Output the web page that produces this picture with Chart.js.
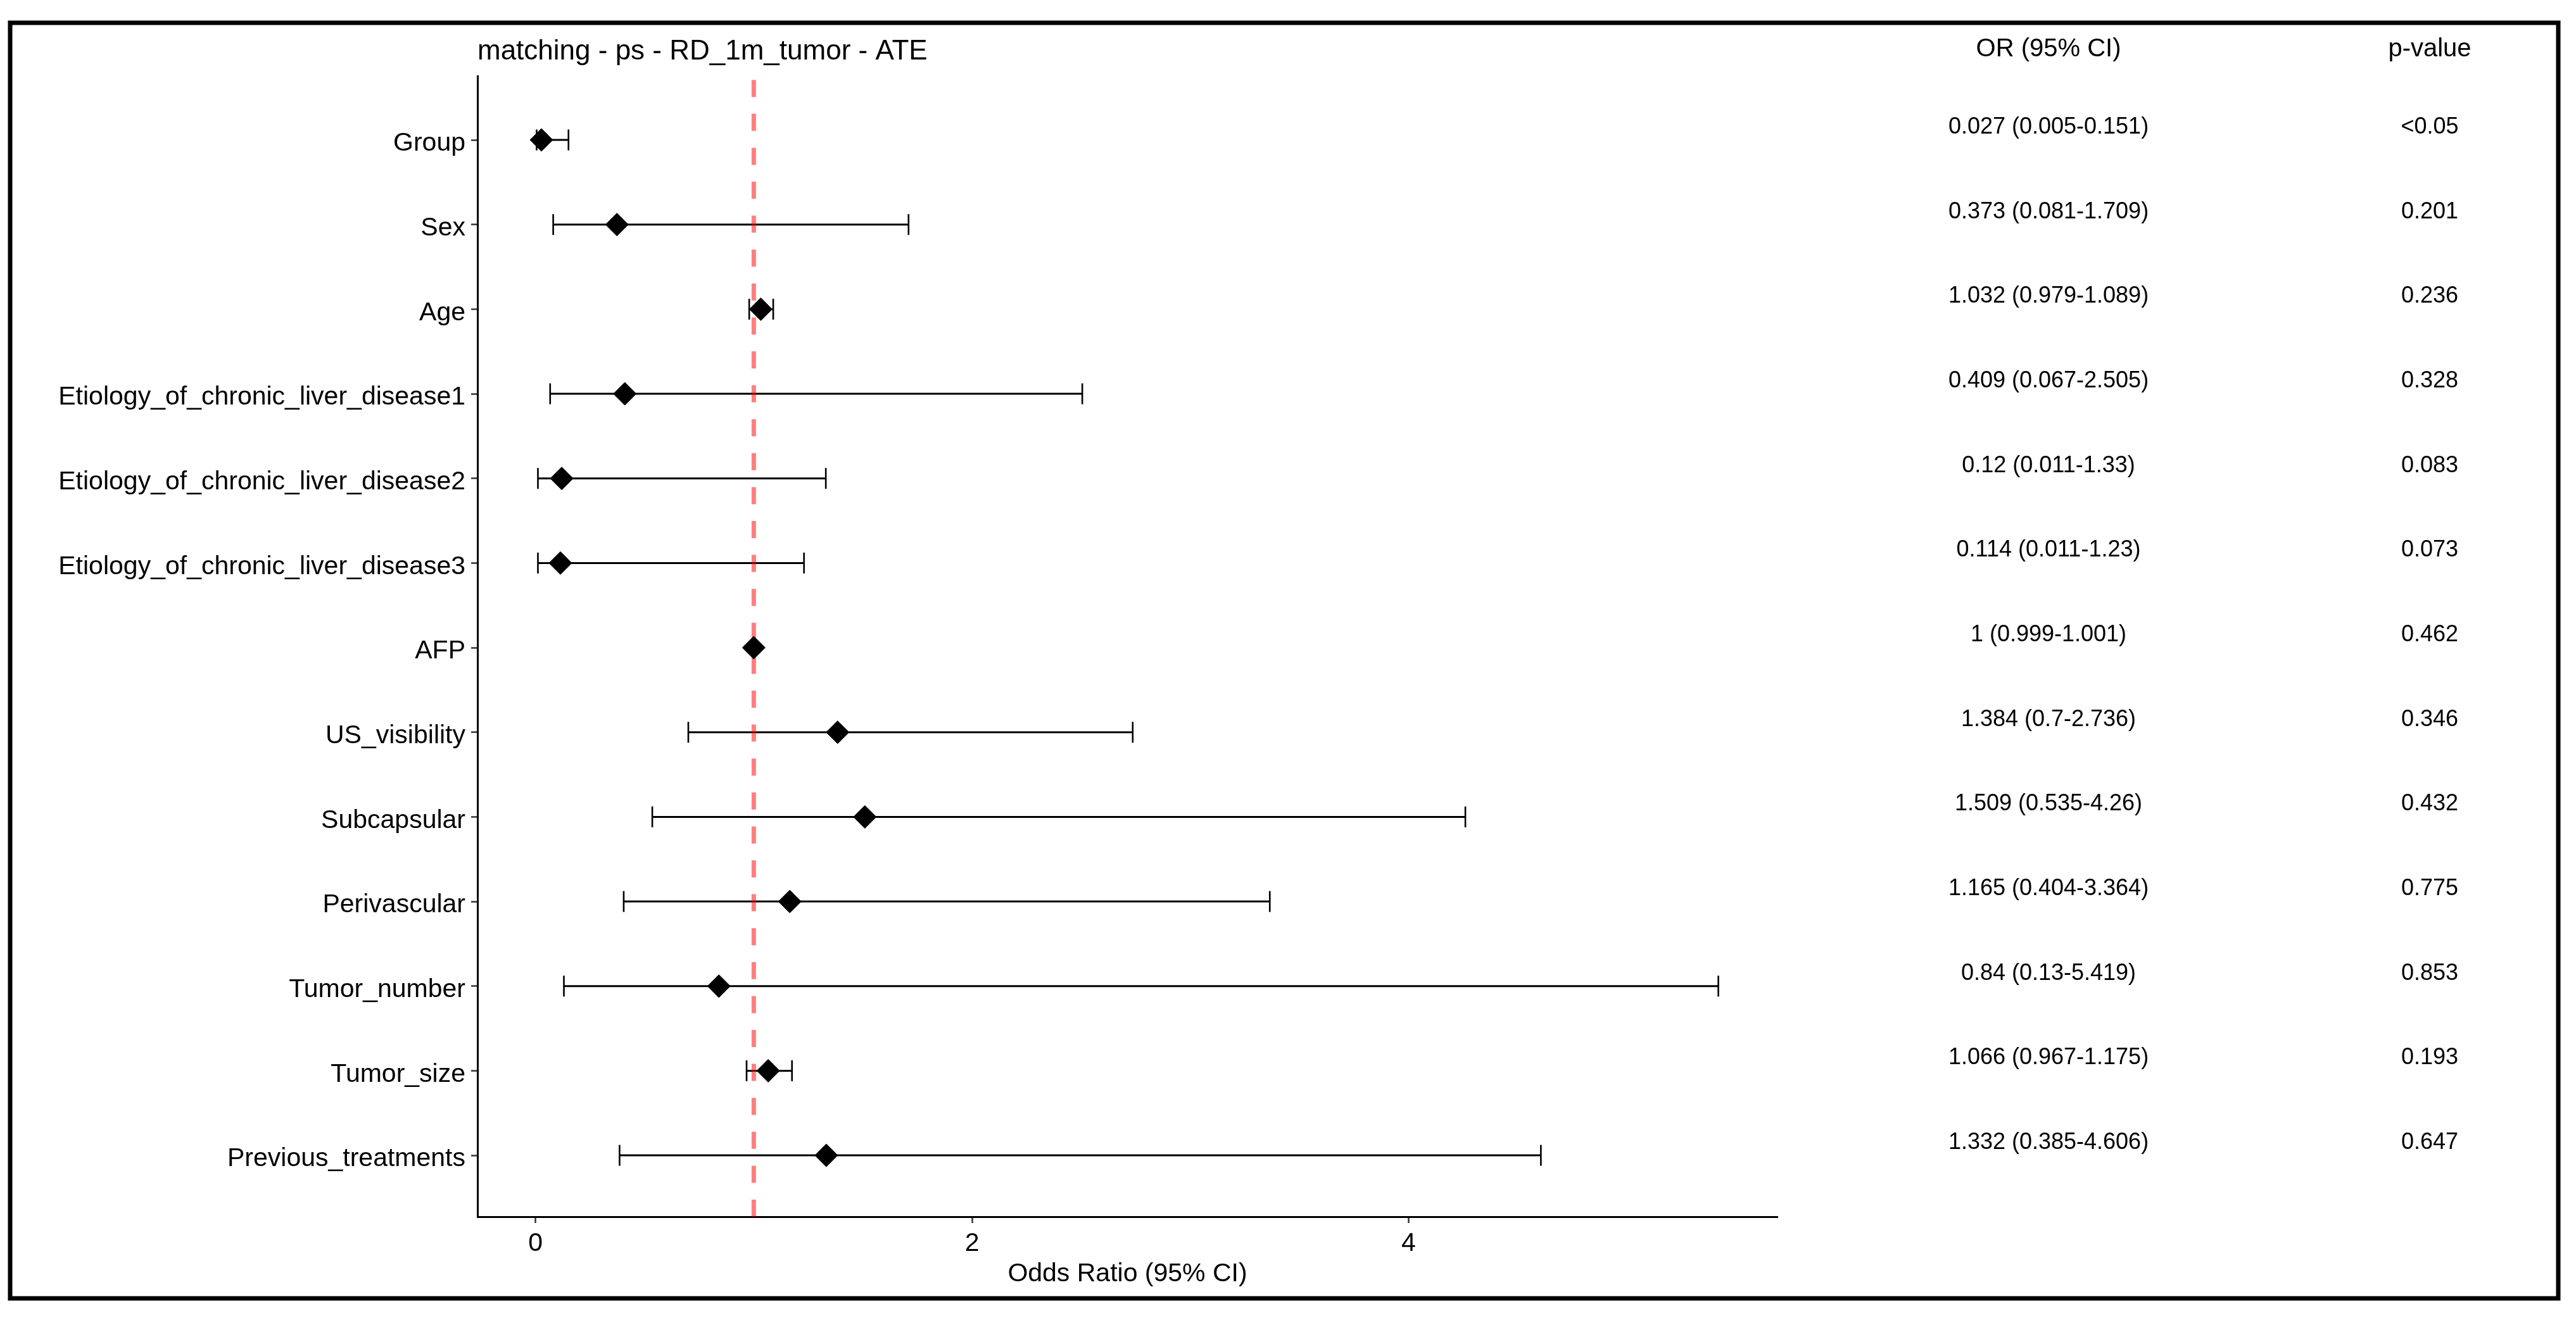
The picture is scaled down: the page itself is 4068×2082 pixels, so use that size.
<!DOCTYPE html>
<html>
<head>
<meta charset="utf-8">
<title>Forest plot - matching - ps - RD_1m_tumor - ATE</title>
<script src="https://cdn.jsdelivr.net/npm/chart.js@4.4.1/dist/chart.umd.min.js"></script>
<style>
  html, body { margin: 0; padding: 0; background: #fff; }
  canvas { display: block; }
</style>
</head>
<body>
<canvas id="forestChart" width="4068" height="2082" style="width:4068px;height:2082px"></canvas>
<script>
const labels = [
  "Group", "Sex", "Age",
  "Etiology_of_chronic_liver_disease1",
  "Etiology_of_chronic_liver_disease2",
  "Etiology_of_chronic_liver_disease3",
  "AFP", "US_visibility", "Subcapsular", "Perivascular",
  "Tumor_number", "Tumor_size", "Previous_treatments"
];
const oddsRatio = [0.027, 0.373, 1.032, 0.409, 0.12, 0.114, 1, 1.384, 1.509, 1.165, 0.84, 1.066, 1.332];
const ciLower   = [0.005, 0.081, 0.979, 0.067, 0.011, 0.011, 0.999, 0.7, 0.535, 0.404, 0.13, 0.967, 0.385];
const ciUpper   = [0.151, 1.709, 1.089, 2.505, 1.33, 1.23, 1.001, 2.736, 4.26, 3.364, 5.419, 1.175, 4.606];
const pValues   = ["<0.05", "0.201", "0.236", "0.328", "0.083", "0.073", "0.462", "0.346", "0.432", "0.775", "0.853", "0.193", "0.647"];
const xTicks = [0, 2, 4];
const refLine = 1;
const plotTitle = "matching - ps - RD_1m_tumor - ATE";
const xTitle = "Odds Ratio (95% CI)";
const tableHeaders = ["OR (95% CI)", "p-value"];

const FONT = "'Liberation Sans', Arial, sans-serif";
const X_MIN = -0.266, X_MAX = 5.69;
const Y_MIN = -0.756, Y_MAX = 12.725;

// CI segments, broken by null points
const ciSegments = [];
labels.forEach((_, i) => {
  ciSegments.push({ x: ciLower[i], y: i }, { x: ciUpper[i], y: i }, { x: null, y: null });
});
const capPoints = labels.map((_, i) => ({ x: ciLower[i], y: i }))
  .concat(labels.map((_, i) => ({ x: ciUpper[i], y: i })));

const forestText = {
  id: "forestText",
  beforeDraw(chart) {
    const ctx = chart.ctx;
    ctx.save();
    ctx.fillStyle = "#fff";
    ctx.fillRect(0, 0, chart.width, chart.height);
    ctx.restore();
  },
  afterDraw(chart) {
    const ctx = chart.ctx;
    const yScale = chart.scales.y;
    const area = chart.chartArea;
    ctx.save();
    ctx.fillStyle = "#000";
    ctx.textBaseline = "middle";

    ctx.font = "44px " + FONT;
    ctx.textAlign = "left";
    ctx.fillText(plotTitle, area.left, 82);

    ctx.textAlign = "center";
    ctx.font = "40px " + FONT;
    ctx.fillText(tableHeaders[0], 3235, 78);
    ctx.fillText(tableHeaders[1], 3837, 78);

    ctx.font = "36px " + FONT;
    labels.forEach((_, i) => {
      const y = yScale.getPixelForValue(i) - 20;
      const txt = oddsRatio[i] + " (" + ciLower[i] + "-" + ciUpper[i] + ")";
      ctx.fillText(txt, 3235, y);
      ctx.fillText(pValues[i], 3837, y);
    });

    // outer frame
    ctx.strokeStyle = "#000";
    ctx.lineWidth = 7;
    ctx.strokeRect(16, 36, 4024, 2015);
    ctx.restore();
  }
};

new Chart(document.getElementById("forestChart"), {
  type: "scatter",
  data: {
    datasets: [
      {
        label: "OR",
        data: oddsRatio.map((v, i) => ({ x: v, y: i })),
        pointStyle: "rectRot",
        pointRadius: 18,
        backgroundColor: "#000",
        borderColor: "#000",
        borderWidth: 1
      },
      {
        label: "caps",
        data: capPoints,
        pointStyle: "line",
        rotation: 90,
        pointRadius: 16.5,
        borderColor: "#000",
        borderWidth: 2.6
      },
      {
        label: "ref",
        type: "line",
        data: [{ x: refLine, y: Y_MAX }, { x: refLine, y: Y_MIN }],
        borderColor: "rgba(255, 0, 0, 0.5)",
        borderWidth: 7,
        borderDash: [27, 26.6],
        pointRadius: 0
      },
      {
        label: "CI",
        type: "line",
        data: ciSegments,
        borderColor: "#000",
        borderWidth: 3,
        pointRadius: 0,
        spanGaps: false
      }
    ]
  },
  options: {
    responsive: false,
    devicePixelRatio: 1,
    animation: false,
    events: [],
    layout: { padding: { left: 0, right: 1261, top: 120, bottom: 0 } },
    plugins: {
      legend: { display: false },
      tooltip: { enabled: false }
    },
    scales: {
      x: {
        type: "linear",
        min: X_MIN,
        max: X_MAX,
        afterBuildTicks: (s) => { s.ticks = xTicks.map((v) => ({ value: v })); },
        afterFit: (s) => { s.height = 160; },
        ticks: { autoSkip: false, color: "#000", padding: 8, font: { family: FONT, size: 41 } },
        grid: { drawOnChartArea: false, drawTicks: true, tickLength: 10, tickWidth: 2.5, color: "#333" },
        border: { display: true, color: "#000", width: 3 },
        title: {
          display: true,
          text: xTitle,
          color: "#000",
          font: { family: FONT, size: 41 },
          padding: { top: 0, bottom: 45 }
        }
      },
      y: {
        type: "linear",
        reverse: true,
        min: Y_MIN,
        max: Y_MAX,
        afterBuildTicks: (s) => { s.ticks = labels.map((_, i) => ({ value: i })); },
        afterFit: (s) => { s.width = 754; },
        ticks: {
          autoSkip: false,
          color: "#000",
          padding: 9,
          labelOffset: 6,
          font: { family: FONT, size: 41 },
          callback: (v) => labels[v]
        },
        grid: { drawOnChartArea: false, drawTicks: true, tickLength: 10, tickWidth: 2.5, color: "#333" },
        border: { display: true, color: "#000", width: 3 }
      }
    }
  },
  plugins: [forestText]
});
</script>
</body>
</html>
